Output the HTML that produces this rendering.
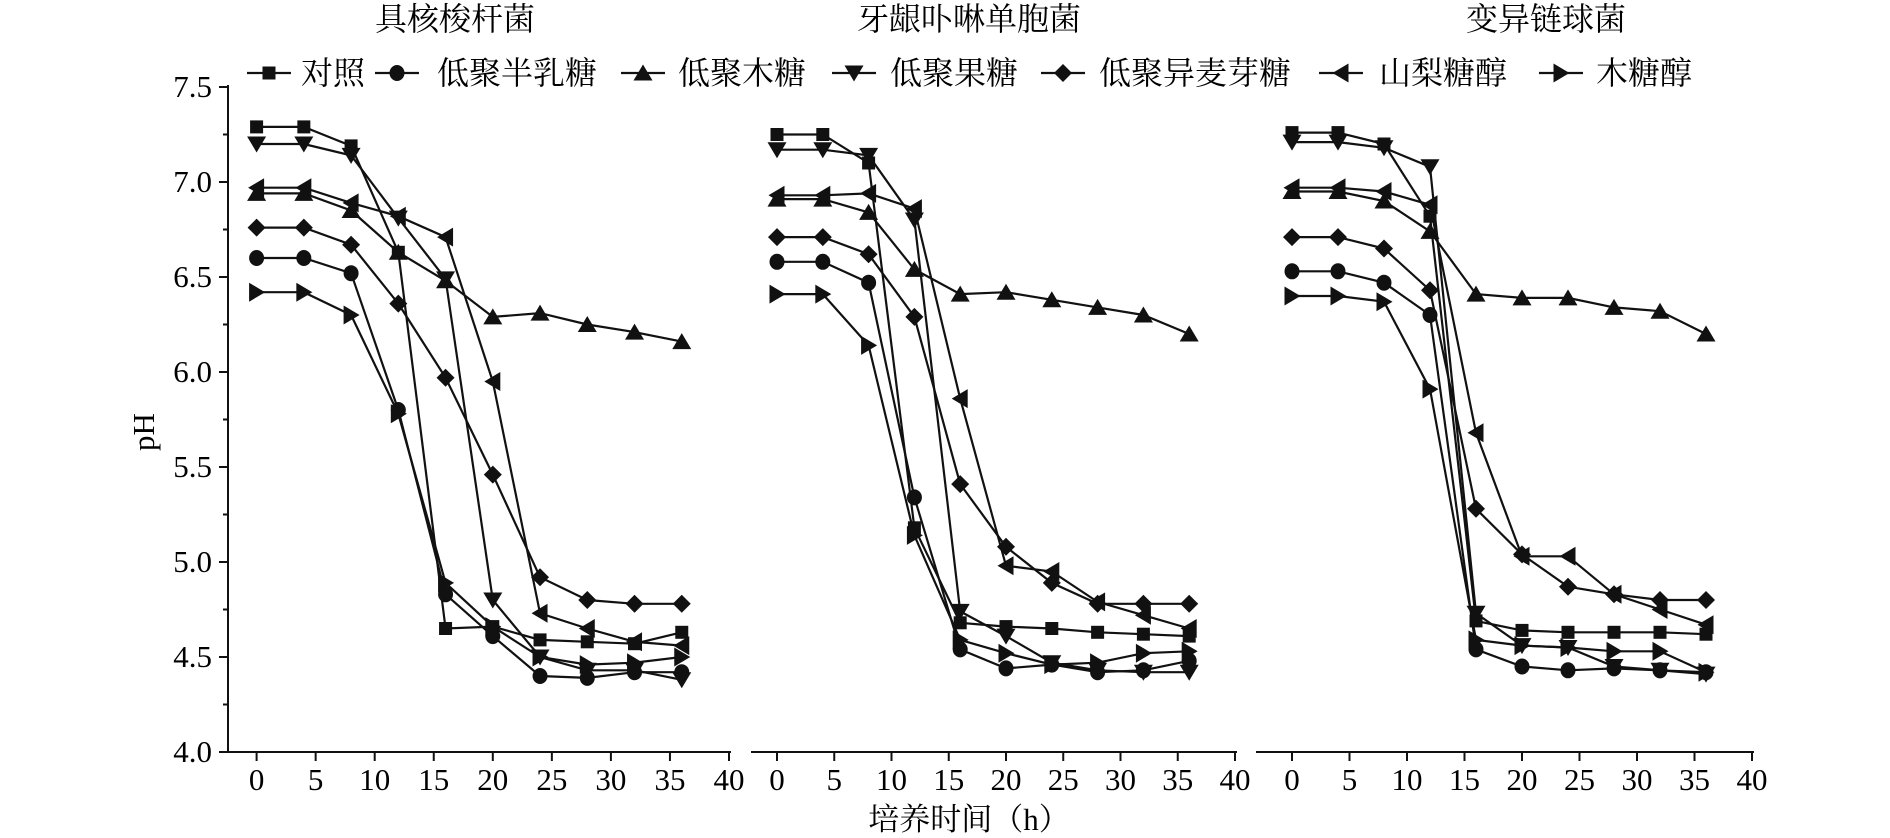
<!DOCTYPE html>
<html><head><meta charset="utf-8">
<style>
html,body{margin:0;padding:0;background:#fff;}
svg{display:block;}
text{font-family:"Liberation Serif","Noto Serif CJK SC",serif;fill:#000;}
</style></head>
<body>
<svg id="chart" width="1890" height="838" viewBox="0 0 1890 838" xmlns="http://www.w3.org/2000/svg"></svg>
<script>
const times = [0,4,8,12,16,20,24,28,32,36];
const seriesNames = ["对照","低聚半乳糖","低聚木糖","低聚果糖","低聚异麦芽糖","山梨糖醇","木糖醇"];
const seriesMarkers = ["square","circle","triUp","triDown","diamond","triLeft","triRight"];
const panelTitles = ["具核梭杆菌","牙龈卟啉单胞菌","变异链球菌"];
const yTicks = [4.0,4.5,5.0,5.5,6.0,6.5,7.0,7.5];
const xTicks = [0,5,10,15,20,25,30,35,40];
// panel 1
const p1Control = [7.29,7.29,7.19,6.63,4.65,4.66,4.59,4.58,4.57,4.63];
const p1Galacto = [6.60,6.60,6.52,5.80,4.83,4.61,4.40,4.39,4.42,4.42];
const p1Xylo = [6.94,6.94,6.85,6.63,6.48,6.29,6.31,6.25,6.21,6.16];
const p1Fructo = [7.20,7.20,7.14,6.81,6.49,4.80,4.50,4.43,4.43,4.38];
const p1Isomalto = [6.76,6.76,6.67,6.36,5.97,5.46,4.92,4.80,4.78,4.78];
const p1Sorbitol = [6.97,6.97,6.89,6.82,6.71,5.95,4.73,4.65,4.58,4.56];
const p1Xylitol = [6.42,6.42,6.30,5.78,4.89,4.66,4.50,4.46,4.47,4.50];
// panel 2
const p2Control = [7.25,7.25,7.10,5.18,4.68,4.66,4.65,4.63,4.62,4.61];
const p2Galacto = [6.58,6.58,6.47,5.34,4.54,4.44,4.46,4.42,4.43,4.48];
const p2Xylo = [6.91,6.91,6.84,6.54,6.41,6.42,6.38,6.34,6.30,6.20];
const p2Fructo = [7.17,7.17,7.14,6.80,4.74,4.61,4.47,4.43,4.42,4.42];
const p2Isomalto = [6.71,6.71,6.62,6.29,5.41,5.08,4.89,4.78,4.78,4.78];
const p2Sorbitol = [6.93,6.93,6.94,6.86,5.86,4.98,4.95,4.79,4.72,4.65];
const p2Xylitol = [6.41,6.41,6.14,5.14,4.59,4.52,4.46,4.47,4.52,4.53];
// panel 3
const p3Control = [7.26,7.26,7.20,6.82,4.69,4.64,4.63,4.63,4.63,4.62];
const p3Galacto = [6.53,6.53,6.47,6.30,4.54,4.45,4.43,4.44,4.43,4.42];
const p3Xylo = [6.95,6.95,6.90,6.74,6.41,6.39,6.39,6.34,6.32,6.20];
const p3Fructo = [7.21,7.21,7.18,7.08,4.73,4.56,4.55,4.45,4.43,4.41];
const p3Isomalto = [6.71,6.71,6.65,6.43,5.28,5.04,4.87,4.83,4.80,4.80];
const p3Sorbitol = [6.97,6.97,6.95,6.88,5.68,5.03,5.03,4.83,4.75,4.67];
const p3Xylitol = [6.40,6.40,6.37,5.91,4.59,4.56,4.55,4.53,4.53,4.42];

const panelData = [
  [p1Control,p1Galacto,p1Xylo,p1Fructo,p1Isomalto,p1Sorbitol,p1Xylitol],
  [p2Control,p2Galacto,p2Xylo,p2Fructo,p2Isomalto,p2Sorbitol,p2Xylitol],
  [p3Control,p3Galacto,p3Xylo,p3Fructo,p3Isomalto,p3Sorbitol,p3Xylitol]
];
const panels = [
  {x0:256.6, x40:729, axL:226, axR:731, title:455},
  {x0:777, x40:1235, axL:751, axR:1237, title:969},
  {x0:1292, x40:1752, axL:1256, axR:1754, title:1546}
];
const NS="http://www.w3.org/2000/svg";
const svg=document.getElementById('chart');
function mk(tag, attrs, parent){const e=document.createElementNS(NS,tag);for(const k in attrs)e.setAttribute(k,attrs[k]);(parent||svg).appendChild(e);return e;}
const yTop=87, yBot=752;
function yS(v){return yBot-(v-4.0)/3.5*(yBot-yTop);}

function marker(type,cx,cy,g){
  const s=8.5; let e;
  if(type==="square"){e=mk('rect',{x:cx-6.5,y:cy-6.5,width:13,height:13,fill:'#111'},g);}
  else if(type==="circle"){e=mk('ellipse',{cx:cx,cy:cy,rx:7.5,ry:8,fill:'#111'},g);}
  else if(type==="diamond"){e=mk('polygon',{points:`${cx},${cy-9} ${cx+9},${cy} ${cx},${cy+9} ${cx-9},${cy}`,fill:'#111'},g);}
  else if(type==="triUp"){e=mk('polygon',{points:`${cx},${cy-s} ${cx+s+1},${cy+s-1} ${cx-s-1},${cy+s-1}`,fill:'#111'},g);}
  else if(type==="triDown"){e=mk('polygon',{points:`${cx},${cy+s} ${cx+s+1},${cy-s+1} ${cx-s-1},${cy-s+1}`,fill:'#111'},g);}
  else if(type==="triLeft"){e=mk('polygon',{points:`${cx-s},${cy} ${cx+s-1},${cy-s-1} ${cx+s-1},${cy+s+1}`,fill:'#111'},g);}
  else {e=mk('polygon',{points:`${cx+s},${cy} ${cx-s+1},${cy-s-1} ${cx-s+1},${cy+s+1}`,fill:'#111'},g);}
  return e;
}

// y axis
const yAx=mk('g',{});


mk('line',{x1:228,y1:yTop-2,x2:228,y2:yBot,stroke:'#111','stroke-width':2},yAx);
for(let i=0;i<yTicks.length;i++){
  const y=yS(yTicks[i]);
  mk('line',{x1:219,y1:y,x2:228,y2:y,stroke:'#111','stroke-width':2},yAx);
  const t=mk('text',{x:212,y:y+10,'text-anchor':'end','font-size':31},yAx);
  t.textContent=yTicks[i].toFixed(1);
  
  
  if(i<yTicks.length-1){const ym=yS(yTicks[i]+0.25);mk('line',{x1:223,y1:ym,x2:228,y2:ym,stroke:'#111','stroke-width':2},yAx);}
}
const yl=mk('text',{x:0,y:0,'font-size':31,'text-anchor':'middle',transform:'translate(154,432) rotate(-90)'});
yl.textContent='pH';



panels.forEach((p,pi)=>{
  const g=mk('g',{});
  
  
  const xS=t=>p.x0+(t/40)*(p.x40-p.x0);
  mk('line',{x1:p.axL,y1:yBot,x2:p.axR,y2:yBot,stroke:'#111','stroke-width':2},g);
  xTicks.forEach(t=>{
    const x=xS(t);
    mk('line',{x1:x,y1:yBot,x2:x,y2:yBot+9,stroke:'#111','stroke-width':2},g);
    const lb=mk('text',{x:x,y:790,'text-anchor':'middle','font-size':31},g);
    lb.textContent=t;
    
    
  });
  const tt=mk('text',{x:p.title,y:30,'text-anchor':'middle','font-size':32},g);
  tt.textContent=panelTitles[pi];
  
  
  panelData[pi].forEach((vals,si)=>{
    const sg=mk('g',{},g);
    
    
    const pts=vals.map((v,i)=>xS(times[i])+','+yS(v)).join(' ');
    mk('polyline',{points:pts,fill:'none',stroke:'#111','stroke-width':2.2},sg);
    vals.forEach((v,i)=>{
      const m=marker(seriesMarkers[si],xS(times[i]),yS(v),sg);
      
      
    });
  });
});

const xl=mk('text',{x:969,y:830,'text-anchor':'middle','font-size':31});
xl.textContent='培养时间（h）';



// legend
const legX=[[247,301],[375,437],[621,678],[832,890],[1041,1099],[1319,1379],[1539,1596]];
const lg=mk('g',{});


seriesNames.forEach((n,i)=>{
  const eg=mk('g',{},lg);
  
  
  const lx=legX[i][0];
  mk('line',{x1:lx,y1:73,x2:lx+44,y2:73,stroke:'#111','stroke-width':2.2},eg);
  marker(seriesMarkers[i],lx+22,73,eg);
  const t=mk('text',{x:legX[i][1],y:84,'font-size':32},eg);
  t.textContent=n;
});
</script>
</body></html>
